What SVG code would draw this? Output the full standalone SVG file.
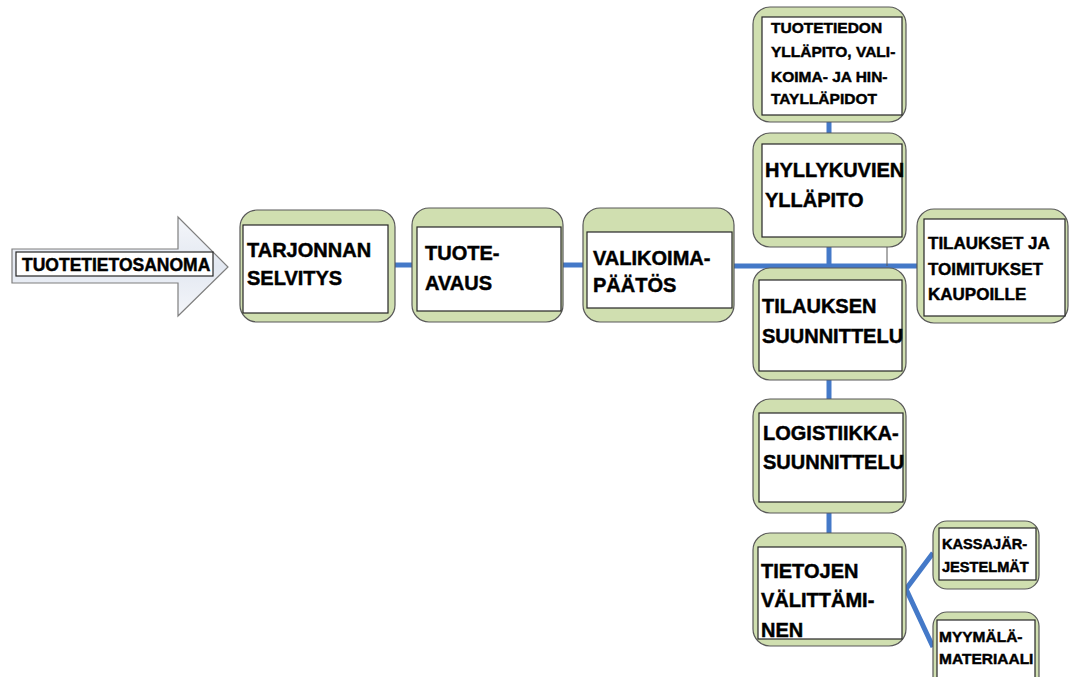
<svg xmlns="http://www.w3.org/2000/svg" width="1071" height="677" viewBox="0 0 1071 677">
<defs>
<linearGradient id="arrowGrad" x1="0" y1="0" x2="0" y2="1">
<stop offset="0" stop-color="#f4f6fa"/>
<stop offset="0.5" stop-color="#e3e8f1"/>
<stop offset="1" stop-color="#f4f6fa"/>
</linearGradient>
</defs>
<style>
.outer{fill:#d0dfb0;stroke:#595959;stroke-width:1.2}
.inner{fill:#ffffff;stroke:#262626;stroke-width:1.2}
.t{font-family:"Liberation Sans",Arial,sans-serif;font-weight:bold;fill:#000000;stroke:#000000;stroke-width:0.45}
.conn{stroke:#4479c8;stroke-width:5;fill:none}
</style>
<rect width="1071" height="677" fill="#ffffff"/>

<g id="connectors">
<line class="conn" x1="395" y1="265" x2="412" y2="265"/>
<line class="conn" x1="563" y1="265" x2="583" y2="265"/>
<line class="conn" x1="734" y1="266" x2="918" y2="266"/>
<line class="conn" x1="829" y1="122" x2="829" y2="133"/>
<line class="conn" x1="829" y1="247" x2="829" y2="266"/>
<line x1="887" y1="247" x2="887" y2="266" stroke="#595959" stroke-width="1"/>
<line class="conn" x1="829" y1="380" x2="829" y2="399"/>
<line class="conn" x1="829" y1="513" x2="829" y2="533"/>
<polyline class="conn" points="933,553 906,589 933,647"/>
</g>

<g id="tuotetietosanoma">
<polygon points="12,249 178,249 178,217 228,267 178,316 178,283 12,283" fill="url(#arrowGrad)" stroke="#7f7f7f" stroke-width="1.2"/>
<rect x="16" y="252" width="197" height="24" fill="#ffffff" stroke="#262626" stroke-width="1.2"/>
<text class="t" x="22" y="271" font-size="17.5">TUOTETIETOSANOMA</text>
</g>

<g id="tarjonnan">
<rect class="outer" x="240" y="210" width="155" height="112" rx="17"/>
<rect class="inner" x="243" y="225" width="145" height="88"/>
<text class="t" x="247" y="257" font-size="20">TARJONNAN</text>
<text class="t" x="247" y="285" font-size="20">SELVITYS</text>
</g>

<g id="tuoteavaus">
<rect class="outer" x="412" y="208" width="151" height="114" rx="17"/>
<rect class="inner" x="417" y="227" width="144" height="84"/>
<text class="t" x="425" y="260" font-size="20">TUOTE-</text>
<text class="t" x="425" y="290" font-size="20">AVAUS</text>
</g>

<g id="valikoima">
<rect class="outer" x="583" y="208" width="151" height="114" rx="17"/>
<rect class="inner" x="587" y="232" width="145" height="76"/>
<text class="t" x="593" y="265" font-size="20">VALIKOIMA-</text>
<text class="t" x="593" y="292" font-size="20">PÄÄTÖS</text>
</g>

<g id="tuotetiedon">
<rect class="outer" x="753" y="7" width="153" height="115" rx="17"/>
<rect class="inner" x="762" y="17" width="140" height="98"/>
<text class="t" x="771" y="33" font-size="15.5">TUOTETIEDON</text>
<text class="t" x="771" y="57" font-size="15.5">YLLÄPITO, VALI-</text>
<text class="t" x="771" y="82" font-size="15.5">KOIMA- JA HIN-</text>
<text class="t" x="771" y="104" font-size="15.5">TAYLLÄPIDOT</text>
</g>

<g id="hyllykuvien">
<rect class="outer" x="753" y="133" width="153" height="114" rx="17"/>
<rect class="inner" x="762" y="144" width="140" height="93"/>
<text class="t" x="765" y="177" font-size="20">HYLLYKUVIEN</text>
<text class="t" x="765" y="207" font-size="20">YLLÄPITO</text>
</g>

<g id="tilaukset">
<rect class="outer" x="917" y="209" width="151" height="114" rx="17"/>
<rect class="inner" x="924" y="219" width="141" height="97"/>
<text class="t" x="928" y="249" font-size="17">TILAUKSET JA</text>
<text class="t" x="928" y="275" font-size="17">TOIMITUKSET</text>
<text class="t" x="928" y="300" font-size="17">KAUPOILLE</text>
</g>

<g id="tilauksen">
<rect class="outer" x="753" y="268" width="153" height="112" rx="17"/>
<rect class="inner" x="759" y="280" width="143" height="91"/>
<text class="t" x="762" y="313" font-size="20">TILAUKSEN</text>
<text class="t" x="762" y="343" font-size="20">SUUNNITTELU</text>
</g>

<g id="logistiikka">
<rect class="outer" x="753" y="399" width="153" height="114" rx="17"/>
<rect class="inner" x="759" y="413" width="144" height="89"/>
<text class="t" x="763" y="440" font-size="20">LOGISTIIKKA-</text>
<text class="t" x="763" y="469" font-size="20">SUUNNITTELU</text>
</g>

<g id="tietojen">
<rect class="outer" x="753" y="533" width="153" height="113" rx="17"/>
<rect class="inner" x="758" y="547" width="144" height="92"/>
<text class="t" x="761" y="578" font-size="20">TIETOJEN</text>
<text class="t" x="761" y="607" font-size="20">VÄLITTÄMI-</text>
<text class="t" x="761" y="637" font-size="20">NEN</text>
</g>

<g id="kassajarjestelmat">
<rect class="outer" x="933" y="521" width="106" height="68" rx="14"/>
<rect class="inner" x="939" y="528" width="97" height="52"/>
<text class="t" x="942" y="549" font-size="14.6">KASSAJÄR-</text>
<text class="t" x="942" y="572" font-size="14.6">JESTELMÄT</text>
</g>

<g id="myymalamateriaali">
<rect class="outer" x="933" y="612" width="106" height="80" rx="14"/>
<rect class="inner" x="937" y="620" width="98" height="70"/>
<text class="t" x="939" y="642" font-size="15.5">MYYMÄLÄ-</text>
<text class="t" x="939" y="664" font-size="15.5">MATERIAALI</text>
</g>
</svg>
